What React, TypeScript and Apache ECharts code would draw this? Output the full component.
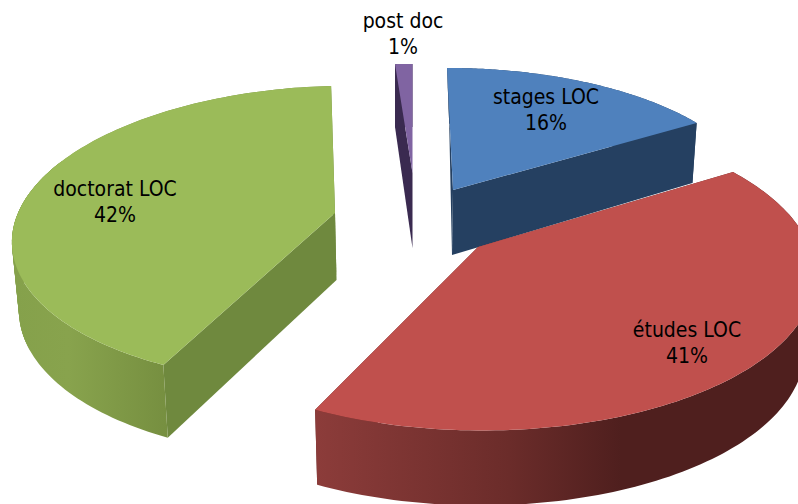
import React, { useEffect, useRef } from "react";
import * as echarts from "echarts";

const categories = ["stages LOC", "études LOC", "doctorat LOC", "post doc"];
const values = [16, 41, 42, 1];

const topColors = ["#4F81BD", "#C0504D", "#9BBB59", "#8064A2"];
const cutColors = ["#254061", "#632625", "#6F893E", "#3A2A50"];
const rimStops = [
  [[0, "#254061"], [1, "#254061"]],
  [[0, "#8C3C3A"], [0.4, "#6B2C2A"], [0.63, "#4F1F1E"], [1, "#4F1F1E"]],
  [[0, "#85A14B"], [0.35, "#88A34D"], [1, "#768F40"]],
  [[0, "#3A2A50"], [1, "#3A2A50"]],
];

// Projection of each exploded slice: apex, radius, foreshortening, perspective, skew, thickness.
const geometry = [
  { cx: 453, cy: 190, R: 301, T: 128.7, k: 0.0545, m: 6.3, h: 65, cxb: 452, bx: 0.98, by: 1.075, shear: 0.025, rimX: [447, 700], lx: 546, ly: 110 },
  { cx: 478, cy: 247, R: 331.6, T: 152.5, k: 0.1687, m: 3.5, h: 75, cxb: 476, bx: 0.975, by: 1.0, shear: 0, rimX: [316, 800], lx: 687, ly: 343 },
  { cx: 335, cy: 213, R: 317, T: 145.8, k: 0.1458, m: -15.5, h: 67, cxb: 336.5, bx: 0.983, by: 1.0375, shear: -0.025, rimX: [15, 167], lx: 115, ly: 202 },
  { cx: 412.5, cy: 173, R: 292, T: 114.5, k: 0.05, m: 0, h: 75, cxb: 412.5, bx: 1, by: 1.11, shear: 0, rimX: [395, 413], lx: 403, ly: 34 },
];

const total = values.reduce((a, b) => a + b, 0);

function top(g: any, t: number): number[] {
  const u = Math.sin(t);
  const v = -Math.cos(t);
  const s = 1 / (1 - g.k * v);
  return [g.cx + (g.R * u + g.m * v) * s, g.cy + g.T * v * s];
}
function bottom(g: any, p: number[]): number[] {
  const dy = p[1] - g.cy;
  return [g.cxb + g.bx * (p[0] - g.cx) - g.shear * Math.min(dy, 0), g.cy + g.h + g.by * dy];
}

function renderItem(params: any) {
  const i = params.dataIndex;
  const g = geometry[i];
  const before = values.slice(0, i).reduce((a, b) => a + b, 0);
  const t1 = (before / total) * Math.PI * 2;
  const t2 = ((before + values[i]) / total) * Math.PI * 2;
  const n = 120;
  const arc: number[][] = [];
  for (let j = 0; j <= n; j++) arc.push(top(g, t1 + ((t2 - t1) * j) / n));
  const arcB = arc.map((p) => bottom(g, p));
  const apex = [g.cx, g.cy];
  const apexB = bottom(g, apex);
  const stops = rimStops[i].map(([offset, color]) => ({ offset, color }));
  const rimFill = new echarts.graphic.LinearGradient(g.rimX[0], 0, g.rimX[1], 0, stops as any, true);
  const poly = (points: number[][], fill: any) => ({
    type: "polygon",
    shape: { points },
    style: { fill, stroke: null },
  });
  // Bridge the outline of the thickness where the arc turns back on itself at its leftmost point.
  const xs = arc.map((p) => p[0]);
  const left = xs.indexOf(Math.min(...xs));
  const bridges: any[] = [];
  if (left > 0 && left < n) {
    for (let j = Math.max(0, left - 12); j < Math.min(n - 3, left + 24); j++) {
      bridges.push(poly([arc[j], arc[j + 3], arcB[j + 3], arcB[j]], rimFill));
    }
  }
  return {
    type: "group",
    children: [
      poly([apex, arc[0], arcB[0], apexB], cutColors[i]),
      poly([apex, arc[n], arcB[n], apexB], cutColors[i]),
      poly([...arc, ...arcB.slice().reverse()], rimFill),
      ...bridges,
      poly([apex, ...arc], topColors[i]),
      {
        type: "text",
        style: {
          x: g.lx,
          y: g.ly,
          text: `${categories[i]}\n${Math.round((values[i] / total) * 100)}%`,
          fill: "#000000",
          font: '21px "DejaVu Sans Condensed", "DejaVu Sans"',
          lineHeight: 26,
          align: "center",
          verticalAlign: "middle",
        },
      },
    ],
  };
}

export default function App() {
  const ref = useRef<HTMLDivElement>(null);
  useEffect(() => {
    const chart = echarts.init(ref.current!, undefined, { renderer: "svg" });
    chart.setOption({
      animation: false,
      backgroundColor: "#ffffff",
      series: [
        {
          type: "custom",
          coordinateSystem: "none",
          silent: true,
          renderItem,
          data: values,
        },
      ],
    });
    return () => chart.dispose();
  }, []);
  return (
    <div
      ref={ref}
      style={{ position: "absolute", left: 0, top: 0, width: 798, height: 504, overflow: "hidden" }}
    />
  );
}
